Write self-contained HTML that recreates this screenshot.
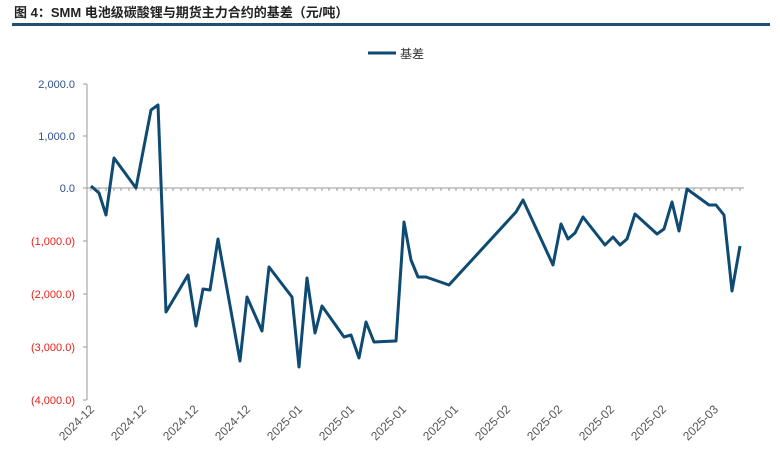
<!DOCTYPE html>
<html><head><meta charset="utf-8"><style>
body{margin:0;background:#fff;}
svg{display:block;font-family:"Liberation Sans","Noto Sans CJK SC",sans-serif;}
</style></head><body>
<svg width="780" height="461" viewBox="0 0 780 461">
<text x="14" y="17" font-size="13" font-weight="bold" fill="#222" font-family="'Liberation Sans','Noto Sans CJK SC',sans-serif">图 4：SMM 电池级碳酸锂与期货主力合约的基差（元/吨）</text>
<rect x="12" y="23" width="758" height="3" fill="#1f4e79"/>
<line x1="368" y1="53" x2="396" y2="53" stroke="#0e4a72" stroke-width="3"/>
<text x="400" y="58" font-size="12" fill="#333">基差</text>
<line x1="87" y1="84" x2="87" y2="400" stroke="#999" stroke-width="1"/>
<g stroke="#999">
<line x1="83" y1="84" x2="87" y2="84"/><line x1="83" y1="136" x2="87" y2="136"/><line x1="83" y1="188" x2="87" y2="188"/><line x1="83" y1="241" x2="87" y2="241"/><line x1="83" y1="294" x2="87" y2="294"/><line x1="83" y1="347" x2="87" y2="347"/><line x1="83" y1="400" x2="87" y2="400"/>
<line x1="87" y1="188" x2="744" y2="188"/>
</g>
<g stroke="#999"><path d="M91 188v3M99 188v3M106 188v3M114 188v3M121 188v3M129 188v3M136 188v3M144 188v3M151 188v3M158 188v3M166 188v3M173 188v3M181 188v3M188 188v3M196 188v3M203 188v3M210 188v3M218 188v3M225 188v3M233 188v3M240 188v3M247 188v3M255 188v3M262 188v3M269 188v3M277 188v3M284 188v3M292 188v3M299 188v3M307 188v3M315 188v3M322 188v3M329 188v3M337 188v3M344 188v3M351 188v3M359 188v3M366 188v3M374 188v3M381 188v3M389 188v3M396 188v3M404 188v3M411 188v3M418 188v3M426 188v3M433 188v3M441 188v3M449 188v3M456 188v3M464 188v3M471 188v3M478 188v3M486 188v3M493 188v3M501 188v3M508 188v3M516 188v3M523 188v3M531 188v3M538 188v3M546 188v3M553 188v3M561 188v3M568 188v3M575 188v3M583 188v3M590 188v3M598 188v3M605 188v3M613 188v3M620 188v3M627 188v3M635 188v3M642 188v3M650 188v3M657 188v3M664 188v3M672 188v3M679 188v3M687 188v3M694 188v3M701 188v3M709 188v3M716 188v3M724 188v3M732 188v3M740 188v3"/></g>
<g font-size="11" text-anchor="end">
<text x="75" y="88" fill="#2f4f8f">2,000.0</text>
<text x="75" y="140" fill="#2f4f8f">1,000.0</text>
<text x="75" y="192" fill="#2f4f8f">0.0</text>
<text x="75" y="245" fill="#e8201a">(1,000.0)</text>
<text x="75" y="298" fill="#e8201a">(2,000.0)</text>
<text x="75" y="351" fill="#e8201a">(3,000.0)</text>
<text x="75" y="404" fill="#e8201a">(4,000.0)</text>
</g>
<g font-size="12" fill="#555" text-anchor="end">
<text transform="translate(95,410) rotate(-45)">2024-12</text>
<text transform="translate(147,410) rotate(-45)">2024-12</text>
<text transform="translate(199,410) rotate(-45)">2024-12</text>
<text transform="translate(251,410) rotate(-45)">2024-12</text>
<text transform="translate(303,410) rotate(-45)">2025-01</text>
<text transform="translate(355,410) rotate(-45)">2025-01</text>
<text transform="translate(407,410) rotate(-45)">2025-01</text>
<text transform="translate(459,410) rotate(-45)">2025-01</text>
<text transform="translate(511,410) rotate(-45)">2025-02</text>
<text transform="translate(563,410) rotate(-45)">2025-02</text>
<text transform="translate(615,410) rotate(-45)">2025-02</text>
<text transform="translate(667,410) rotate(-45)">2025-02</text>
<text transform="translate(719,410) rotate(-45)">2025-03</text>
</g>
<polyline fill="none" stroke="#0e4a72" stroke-width="3" stroke-linejoin="round" points="91,186 99,193 106,215 114,158 136,188 151,110 158,105 166,312 188,275 196,326 203,289 210,290 218,239 240,361 247,297 262,331 269,267 292,297 299,367 307,278 315,333 322,306 344,337 351,335 359,358 366,322 374,342 396,341 404,222 411,260 418,277 426,277 449,285 516,212 523,200 553,265 561,224 568,239 575,233 583,217 605,245 613,237 620,245 627,239 635,214 657,234 664,229 672,202 679,231 687,189 709,205 716,205 724,215 732,291 740,246"/>
</svg>
</body></html>
